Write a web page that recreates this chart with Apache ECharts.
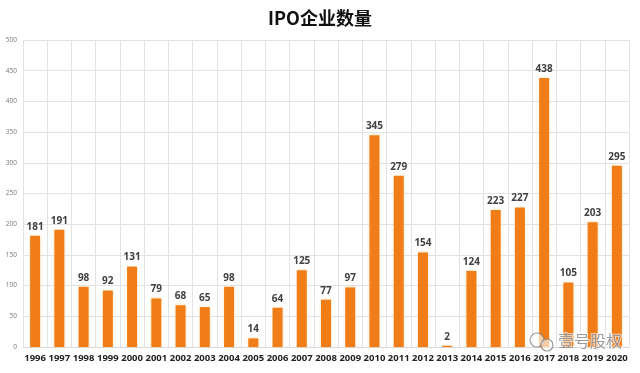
<!DOCTYPE html>
<html><head><meta charset="utf-8">
<script src="https://cdn.jsdelivr.net/npm/echarts@6/dist/echarts.min.js"></script>
<style>html,body{margin:0;padding:0;background:#fff}#c{width:640px;height:373px}</style>
</head><body><div id="c"></div>
<script>
const years = ['1996','1997','1998','1999','2000','2001','2002','2003','2004','2005','2006','2007','2008','2009','2010','2011','2012','2013','2014','2015','2016','2017','2018','2019','2020'];
const ipoCounts = [181,191,98,92,131,79,68,65,98,14,64,125,77,97,345,279,154,2,124,223,227,438,105,203,295];
const yTicks = {min:0, max:500, interval:50};
const titleText = 'IPO企业数量';
const watermark = '壹号股权';

const chart = echarts.init(document.getElementById('c'), null, {renderer:'canvas'});
chart.setOption({
  animation:false,
  backgroundColor:'#fff',
  title:{text:titleText,left:'center',top:4,textStyle:{fontFamily:'Noto Sans CJK SC',fontSize:18,fontWeight:'bold',color:'#111'}},
  grid:{left:23,right:11,top:40,bottom:26,containLabel:false},
  xAxis:{type:'category',data:years,boundaryGap:true,
    axisLine:{show:true,lineStyle:{color:'#d9d9d9'}},axisTick:{show:false},
    splitLine:{show:true,interval:0,lineStyle:{color:'#e3e3e3',width:1}},
    axisLabel:{interval:0,margin:6,fontFamily:'Open Sans',fontWeight:'bold',fontSize:9.5,color:'#222'}},
  yAxis:{type:'value',min:yTicks.min,max:yTicks.max,interval:yTicks.interval,
    axisLine:{show:false},axisTick:{show:false},
    splitLine:{lineStyle:{color:'#e3e3e3'}},
    axisLabel:{margin:6,fontFamily:'Open Sans',fontSize:6.5,color:'#777'}},
  series:[{type:'bar',data:ipoCounts,barWidth:10,
    itemStyle:{color:'#F07D17',shadowColor:'rgba(255,200,120,0.7)',shadowBlur:3},
    label:{show:true,position:'top',distance:4,fontFamily:'Open Sans',fontWeight:'bold',fontSize:10,color:'#404040'}}],
  graphic:[
    {type:'circle',z:100,shape:{cx:537,cy:340,r:7},style:{fill:'rgba(255,255,255,0.6)',stroke:'rgba(130,130,130,0.8)',lineWidth:1.2}},
    {type:'circle',z:101,shape:{cx:547,cy:345,r:6},style:{fill:'rgba(255,255,255,0.6)',stroke:'rgba(130,130,130,0.8)',lineWidth:1.2}},
    {type:'text',z:102,left:557,top:332,style:{text:watermark,fontFamily:'Noto Sans CJK SC',fontSize:16,fill:'rgba(140,140,140,0.85)',stroke:'rgba(255,255,255,0.6)',lineWidth:2}}
  ]
});
</script></body></html>
